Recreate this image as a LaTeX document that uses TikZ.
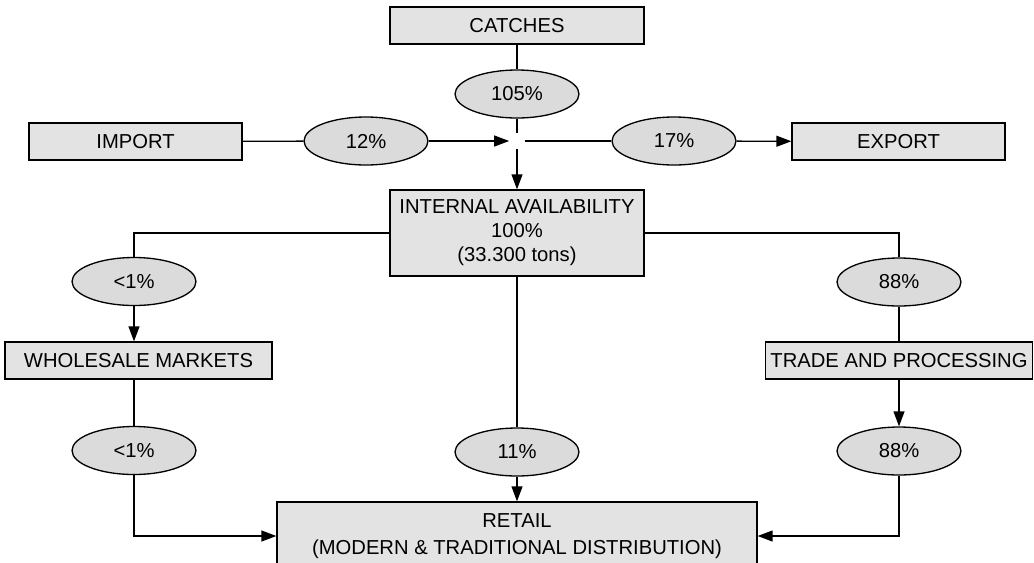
\documentclass[tikz,border=0pt]{standalone}
\usepackage{fontspec}
\setmainfont{Liberation Sans}
\usepackage{xcolor}
\usepackage{tikz}
\usetikzlibrary{shapes.geometric,arrows.meta,positioning,calc}

\definecolor{boxgray}{gray}{0.89}
\definecolor{ovalgray}{gray}{0.86}

\tikzset{
  flowbox/.style={draw=black, fill=boxgray, line width=0.75pt, rectangle,
    minimum height=0.74cm, inner sep=2pt, align=center,
    font=\fontsize{11.5}{13.6}\selectfont},
  share/.style={draw=black, fill=ovalgray, line width=0.75pt, ellipse,
    minimum width=2.48cm, minimum height=0.96cm, inner sep=0pt,
    font=\fontsize{11.5}{13.6}\selectfont},
  flow/.style={line width=0.75pt, -{Triangle[length=8.5pt,width=6.2pt]}},
  link/.style={line width=0.75pt}
}

\begin{document}
\begin{tikzpicture}[x=0.02cm, y=-0.02cm]
\useasboundingbox (0,0) rectangle (1034,562);
% Boxes
\node[flowbox, minimum width=5.08cm] (catches) at (517,25.5) {CATCHES};
\node[flowbox, minimum width=4.26cm] (import) at (135.5,141.5) {IMPORT};
\node[flowbox, minimum width=4.26cm] (export) at (898.5,141.5) {EXPORT};
\node[flowbox, minimum width=5.08cm, minimum height=1.72cm] (internal) at (517,233)
  {INTERNAL AVAILABILITY\\100\%\\(33.300 tons)};
\node[flowbox, minimum width=5.34cm] (wholesale) at (138.5,360.5) {WHOLESALE MARKETS};
\node[flowbox, minimum width=5.34cm] (trade) at (899,360.5) {TRADE AND PROCESSING};
\node[flowbox, minimum width=9.6cm, minimum height=1.36cm] (retail) at (517,536)
  {RETAIL\\[2pt](MODERN \& TRADITIONAL DISTRIBUTION)};
% Shares
\node[share] (c105) at (517,94) {105\%};
\node[share] (i12) at (366,141) {12\%};
\node[share] (e17) at (674,141) {17\%};
\node[share] (lt1) at (134,281.5) {<1\%};
\node[share] (rt1) at (899,282) {88\%};
\node[share] (lb1) at (134,450.5) {<1\%};
\node[share] (m11) at (517,452) {11\%};
\node[share] (rt2) at (899,451) {88\%};
% Crossing point
\node[minimum width=0.3cm, minimum height=0.32cm, inner sep=0pt] (hub) at (517,141) {};
% Top flows
\draw[link] (catches) -- (c105);
\draw[link] (c105) -- (hub);
\draw[link] (import) -- (i12);
\draw[flow] (i12) -- (hub);
\draw[link] (hub) -- (e17);
\draw[flow] (e17) -- (export);
\draw[flow] (hub) -- (internal);
% Left branch
\draw[link] (internal.west) -| (lt1);
\draw[flow] (lt1) -- (lt1 |- wholesale.north);
\draw[link] (lt1 |- wholesale.south) -- (lb1);
\draw[flow] (lb1) |- (retail.west);
% Middle branch
\draw[link] (internal) -- (m11);
\draw[flow] (m11) -- (retail);
% Right branch
\draw[link] (internal.east) -| (rt1);
\draw[link] (rt1) -- (trade);
\draw[flow] (trade) -- (rt2);
\draw[flow] (rt2) |- (retail.east);
\end{tikzpicture}
\end{document}
